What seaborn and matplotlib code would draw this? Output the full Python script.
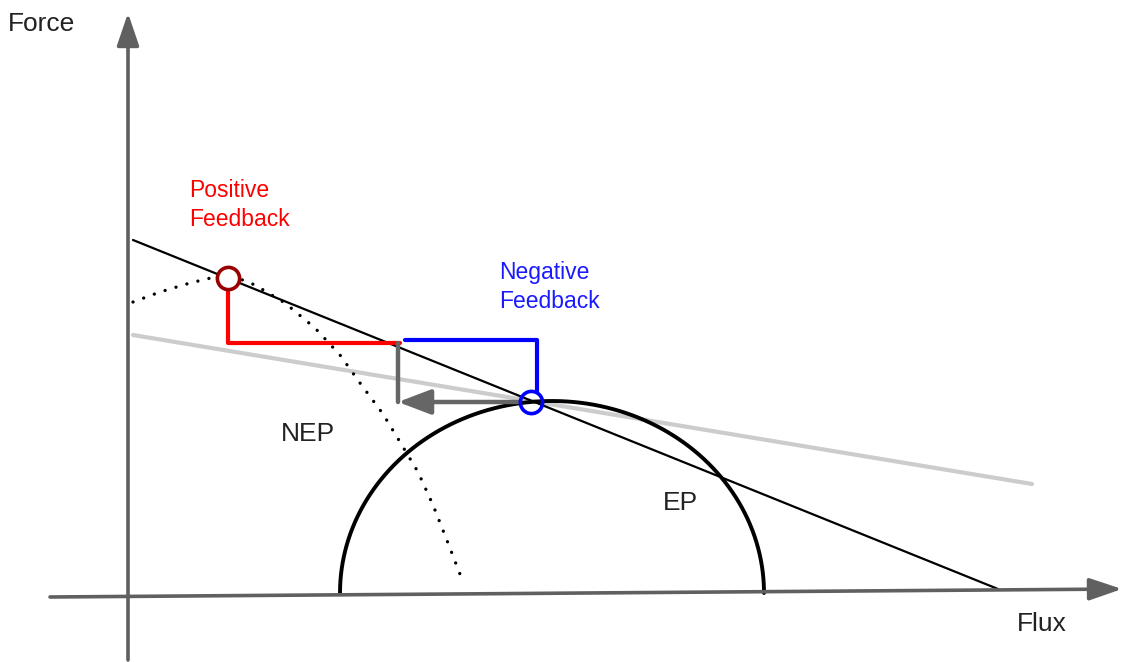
import numpy as np
import pandas as pd
import seaborn as sns
import matplotlib.pyplot as plt

sns.set_theme(style="white")
plt.rcParams['font.family'] = ['Liberation Sans', 'DejaVu Sans']

# Diagram coordinates (picture space, y grows downward)
# Force / Flux axes
y_axis_x = [128, 128]
y_axis_y = [660, 13]
x_axis_x = [50, 1122]
x_axis_y = [597, 589]

# steep black line and the light gray line
black_x = [133, 998]
black_y = [240, 589]
light_x = [133, 1032]
light_y = [335, 484]

# EP dome (half ellipse)
ep_center_x = 552
ep_base_y = 593
ep_half_width = 212
ep_height = 192

# NEP dotted curve
nep_x = [133, 160, 190, 215, 235, 255, 285, 315, 340, 360, 383, 400, 418, 433, 448, 463]
nep_y = [302, 292, 283, 277, 277, 285, 303, 328, 355, 383, 414, 442, 472, 505, 543, 582]

# feedback paths
red_x = [228, 228, 400]
red_y = [289, 343, 343]
blue_x = [405, 537, 537]
blue_y = [340, 340, 392]
gray_x = [398, 398]
gray_y = [343, 402]
gray_arrow_start = (520, 402)
gray_arrow_end = (398, 402)

pos_point = (228, 278)
neg_point = (531, 402)

labels = {
    'Force': (8, 24),
    'Flux': (1017, 624),
    'NEP': (281, 434),
    'EP': (663, 503),
}

fig = plt.figure(figsize=(11.23, 6.62), dpi=100)
ax = fig.add_axes([0, 0, 1, 1])

axis_col = '#606060'

def line(xs, ys, **kw):
    df = pd.DataFrame({'x': xs, 'y': ys})
    sns.lineplot(data=df, x='x', y='y', sort=False, estimator=None, ax=ax, **kw)

# axes with arrow heads
head = '-|>,head_length=1.0,head_width=0.34'
ax.annotate('', xy=(y_axis_x[1], y_axis_y[1]), xytext=(y_axis_x[0], y_axis_y[0]),
            arrowprops=dict(arrowstyle=head, color=axis_col,
                            lw=2.6, mutation_scale=20, shrinkA=0, shrinkB=0))
ax.annotate('', xy=(x_axis_x[1], x_axis_y[1]), xytext=(x_axis_x[0], x_axis_y[0]),
            arrowprops=dict(arrowstyle=head, color=axis_col,
                            lw=2.6, mutation_scale=20, shrinkA=0, shrinkB=0))

line(light_x, light_y, color='#cccccc', lw=3)
line(black_x, black_y, color='black', lw=1.6)

t = np.linspace(np.pi, 0, 200)
ep_x = ep_center_x + ep_half_width * np.cos(t)
ep_y = ep_base_y - ep_height * np.sin(t)
line(ep_x, ep_y, color='black', lw=2.8)

line(nep_x, nep_y, color='black', lw=2.4, linestyle=(0, (0.01, 3.4)),
     dash_capstyle='round')

line(red_x, red_y, color='#ff0000', lw=3)
line(blue_x, blue_y, color='#0000ff', lw=3)
line(gray_x, gray_y, color='#666666', lw=3.2)
ax.annotate('', xy=gray_arrow_end, xytext=gray_arrow_start,
            arrowprops=dict(arrowstyle='-|>,head_length=1.0,head_width=0.38', color='#666666',
                            lw=3.2, mutation_scale=20, shrinkA=0, shrinkB=0))

ax.plot(*pos_point, marker='o', ms=16, mfc='white', mec='#990000', mew=2.6, zorder=5)
ax.plot(*neg_point, marker='o', ms=16, mfc='none', mec='#0000ff', mew=2.6, zorder=5)

for txt, (x, y) in labels.items():
    ax.text(x, y, txt, fontsize=19, color='#222222', va='center', ha='left')

ax.text(189, 205, 'Positive\nFeedback', fontsize=16.5, color='#ff0000',
        va='center', ha='left', linespacing=1.3)
ax.text(499, 287, 'Negative\nFeedback', fontsize=16.5, color='#1a1aff',
        va='center', ha='left', linespacing=1.3)

ax.set_xlim(0, 1123)
ax.set_ylim(662, 0)
ax.set_axis_off()

fig.savefig('out.png', dpi=100)
